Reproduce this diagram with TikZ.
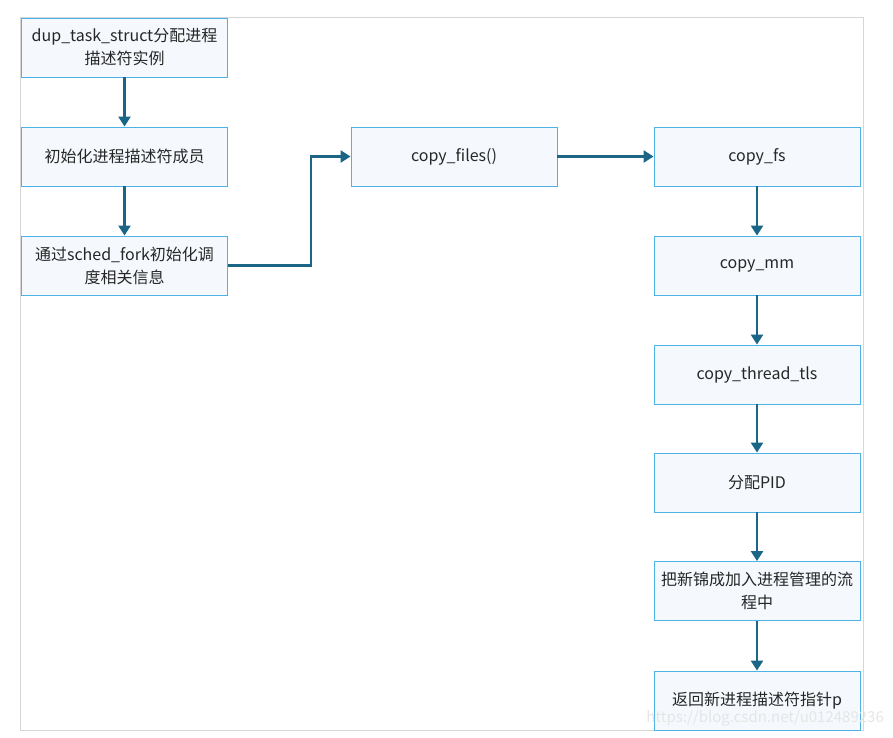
\documentclass[tikz,border=0pt]{standalone}
\usepackage{fontspec}
\setmainfont{Noto Sans CJK SC}
\usetikzlibrary{arrows.meta}
\definecolor{boxline}{HTML}{4DB3E6}
\definecolor{boxfill}{HTML}{F5F9FD}
\definecolor{arr}{HTML}{1B6686}
\definecolor{txt}{HTML}{262626}
\definecolor{frame}{HTML}{D6D6D6}
\tikzset{
  stepbox/.style={draw=boxline, fill=boxfill, line width=0.9pt, minimum width=206pt, minimum height=59pt,
    inner sep=0pt, text width=204pt, align=center, font=\fontsize{16pt}{23pt}\selectfont, text=txt},
  flow/.style={draw=arr, line width=2.4pt, -{Triangle[length=10pt,width=12pt]}}
}
\begin{document}
\begin{tikzpicture}[x=1pt,y=-1pt]
\useasboundingbox (0,0) rectangle (893,737);
\draw[frame, line width=1pt] (20,17) rectangle (863,730);
\node[stepbox] (a) at (124.5,47.5) {dup\_task\_struct分配进程\\描述符实例};
\node[stepbox] (b) at (124.5,156.5) {初始化进程描述符成员};
\node[stepbox] (c) at (124.5,265.5) {通过sched\_fork初始化调\\度相关信息};
\node[stepbox] (d) at (454,156.5) {copy\_files()};
\node[stepbox] (e) at (757,156.5) {copy\_fs};
\node[stepbox] (f) at (757,265.5) {copy\_mm};
\node[stepbox] (g) at (757,374.5) {copy\_thread\_tls};
\node[stepbox] (h) at (757,482.5) {分配PID};
\node[stepbox] (i) at (757,591) {把新锦成加入进程管理的流\\程中};
\node[stepbox] (j) at (757,700.5) {返回新进程描述符指针p};
\draw[flow] (a) -- (b);
\draw[flow] (b) -- (c);
\draw[flow] (c.east) -- (311,265.5) |- (d.west);
\draw[flow] (d) -- (e);
\draw[flow] (e) -- (f);
\draw[flow] (f) -- (g);
\draw[flow] (g) -- (h);
\draw[flow] (h) -- (i);
\draw[flow] (i) -- (j);
\node[text=black!10, font=\fontsize{15pt}{18pt}\selectfont, anchor=east, inner sep=0pt] (wm) at (884,718) {https://blog.csdn.net/u012489236};
\end{tikzpicture}
\end{document}
